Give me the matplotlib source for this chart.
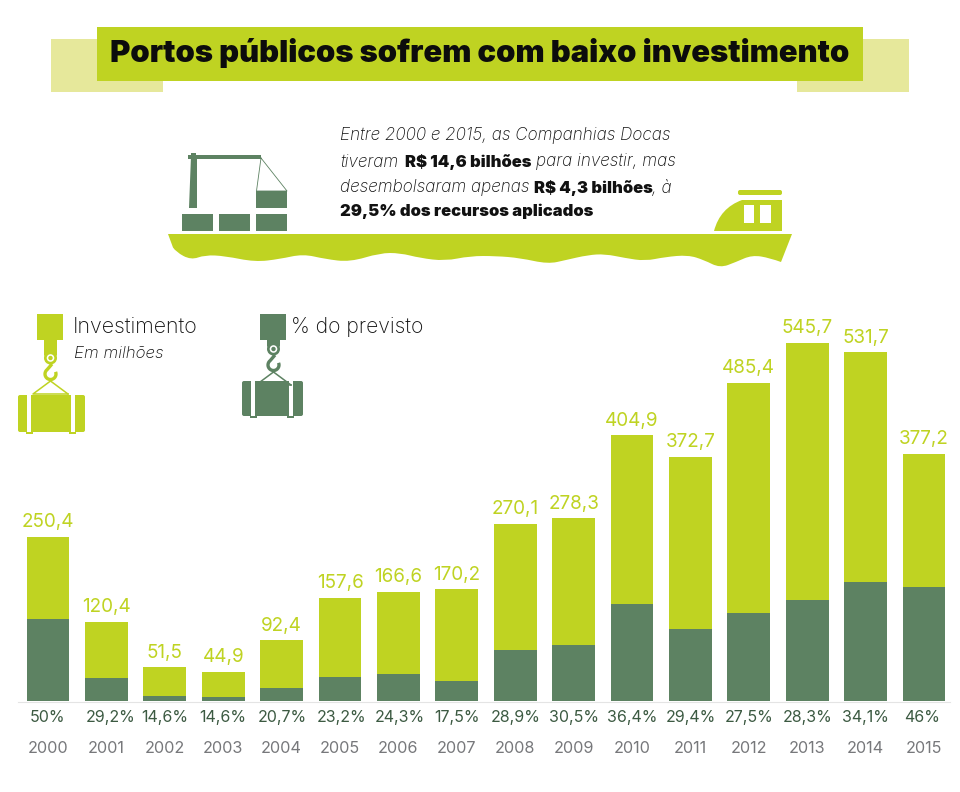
import numpy as np
import matplotlib
matplotlib.use("Agg")
import matplotlib.pyplot as plt
from matplotlib.patches import Rectangle, PathPatch, Circle, FancyBboxPatch
from matplotlib.path import Path

plt.rcParams['font.family'] = ['Inter', 'DejaVu Sans']

# Dados
anos = list(range(2000, 2016))
investimento = [250.4, 120.4, 51.5, 44.9, 92.4, 157.6, 166.6, 170.2,
                270.1, 278.3, 404.9, 372.7, 485.4, 545.7, 531.7, 377.2]
rotulos_inv = ['250,4', '120,4', '51,5', '44,9', '92,4', '157,6', '166,6', '170,2',
               '270,1', '278,3', '404,9', '372,7', '485,4', '545,7', '531,7', '377,2']
pct_previsto = [50, 29.2, 14.6, 14.6, 20.7, 23.2, 24.3, 17.5,
                28.9, 30.5, 36.4, 29.4, 27.5, 28.3, 34.1, 46]
rotulos_pct = ['50%', '29,2%', '14,6%', '14,6%', '20,7%', '23,2%', '24,3%', '17,5%',
               '28,9%', '30,5%', '36,4%', '29,4%', '27,5%', '28,3%', '34,1%', '46%']

LIMA = '#bfd322'
LIMA_CLARO = '#e6e89b'
VERDE = '#5d8262'
TEXTO_PCT = '#3c5a42'
CINZA = '#77787b'

fig = plt.figure(figsize=(9.6, 7.92), dpi=100)

# camada de desenho em pixels
bg = fig.add_axes([0, 0, 1, 1])
bg.set_xlim(0, 960)
bg.set_ylim(792, 0)
bg.axis('off')

# eixo das barras
ax = fig.add_axes([0, (792 - 701) / 792, 1, 401 / 792])
passo = 58.4
ax.set_xlim(2000 - 48 / passo, 2000 + (960 - 48) / passo)
ax.set_ylim(0, 401 / 0.656)
ax.patch.set_alpha(0)

inv = np.array(investimento)
parte = inv * np.array(pct_previsto) / 100
ax.bar(anos, inv, width=0.736, color=LIMA, linewidth=0)
ax.bar(anos, parte, width=0.736, color=VERDE, linewidth=0)

for s in ['top', 'left', 'right', 'bottom']:
    ax.spines[s].set_visible(False)
ax.set_yticks([])
ax.set_xticks(anos)
ax.set_xticklabels(anos, fontsize=11.7, color=CINZA)
ax.tick_params(axis='x', length=0, pad=29)

# pequenos desvios dos rotulos de % no original
desvio_pct = {2000: -1, 2001: 4, 2004: 1, 2005: 2, 2006: 1, 2015: -2}

for a, v, r, p in zip(anos, investimento, rotulos_inv, rotulos_pct):
    ax.annotate(r, (a, v), xytext=(0, 4), textcoords='offset points',
                ha='center', va='bottom', fontsize=13.6, color=LIMA)
    ax.annotate(p, (a, 0), xytext=(desvio_pct.get(a, 0) * 0.72, -12), textcoords='offset points',
                ha='center', va='center', fontsize=11.5, color=TEXTO_PCT)

bg.plot([18, 950], [701.5, 701.5], color='#e4e4e4', lw=0.8)

# titulo
bg.add_patch(Rectangle((51, 39), 112, 53, color=LIMA_CLARO, lw=0))
bg.add_patch(Rectangle((797, 39), 112, 53, color=LIMA_CLARO, lw=0))
bg.add_patch(Rectangle((97, 27), 766, 54, color=LIMA, lw=0))
bg.text(480, 53, 'Portos públicos sofrem com baixo investimento', ha='center', va='center',
        fontsize=22.3, fontweight='black', color='#0c0c0c')

# texto do navio
kw_it = dict(style='italic', fontsize=12.3, va='center', fontweight='light', color='#111111')
kw_bf = dict(fontsize=11.9, va='center', fontweight='black', color='#111111')
bg.text(340, 135, 'Entre 2000 e 2015, as Companhias Docas', **kw_it)
bg.text(340, 162, 'tiveram', **kw_it)
bg.text(405, 162, 'R$ 14,6 bilhões', **kw_bf)
bg.text(536, 162, 'para investir, mas', **kw_it)
bg.text(340, 188, 'desembolsaram apenas', **kw_it)
bg.text(534, 188, 'R$ 4,3 bilhões', **kw_bf)
bg.text(652, 188, ', à', **kw_it)
bg.text(340, 211, '29,5% dos recursos aplicados', **kw_bf)

# casco
fundo = np.array([(781, 262), (770, 258), (752, 255), (736, 262), (720, 268), (704, 260), (688, 255),
                  (665, 257), (645, 261), (625, 258), (605, 254), (588, 255), (566, 260), (548, 264),
                  (520, 258), (496, 256), (470, 256), (445, 261), (420, 258), (400, 253), (380, 253),
                  (350, 262), (325, 259), (303, 254), (280, 259), (255, 262), (225, 256), (205, 255),
                  (191, 260), (176, 252), (170, 243)], dtype=float)
vert = [(168, 234), (792, 234), tuple(fundo[0])]
cod = [Path.MOVETO, Path.LINETO, Path.LINETO]
for i in range(1, len(fundo) - 1):
    vert += [tuple(fundo[i]), tuple((fundo[i] + fundo[i + 1]) / 2)]
    cod += [Path.CURVE3, Path.CURVE3]
vert += [(168, 234), (168, 234)]
cod += [Path.LINETO, Path.CLOSEPOLY]
bg.add_patch(PathPatch(Path(vert, cod), color=LIMA, lw=0))

# cabine
M, L, C, Z = Path.MOVETO, Path.LINETO, Path.CURVE3, Path.CLOSEPOLY
cab = [((714, 231), M), ((720, 208), C), ((742, 200), C), ((782, 200), L), ((782, 231), L),
       ((714, 231), Z)]
bg.add_patch(PathPatch(Path([p for p, _ in cab], [c for _, c in cab]), color=LIMA, lw=0))
bg.add_patch(FancyBboxPatch((738, 190), 44, 5, boxstyle='round,pad=0,rounding_size=2', color=LIMA, lw=0))
bg.add_patch(Rectangle((744, 205), 10, 18, color='white', lw=0))
bg.add_patch(Rectangle((760, 205), 11, 18, color='white', lw=0))

# guindaste e conteineres
for x0 in [182, 219, 256]:
    bg.add_patch(Rectangle((x0, 214), 31, 17, color=VERDE, lw=0))
bg.add_patch(Rectangle((256, 191), 31, 17, color=VERDE, lw=0))
bg.add_patch(PathPatch(Path([(191, 156), (197, 156), (197, 208), (189, 208), (191, 156)],
                            [M, L, L, L, Z]), color=VERDE, lw=0))
bg.add_patch(Rectangle((188, 155), 73, 4, color=VERDE, lw=0))
bg.add_patch(Rectangle((191, 153), 5, 4, color=VERDE, lw=0))
bg.plot([261, 256.5, 287, 261], [158, 191, 191, 158], color=VERDE, lw=0.6)


def gancho(x, cy, cor):
    # x = esquerda do bloco, cy = centro do olhal
    bg.add_patch(Rectangle((x, 314), 26, 26, color=cor, lw=0))
    neck = [(x + 7, 338), (x + 20, 338), (x + 20, cy - 3), (x + 13, cy + 7), (x + 7, cy - 3), (x + 7, 338)]
    bg.add_patch(PathPatch(Path(neck, [M, L, L, L, L, Z]), color=cor, lw=0))
    bg.add_patch(Circle((x + 13.5, cy), 6.5, color=cor, lw=0))
    bg.add_patch(Circle((x + 13.5, cy), 3.8, color='white', lw=0))
    bg.add_patch(Circle((x + 13.5, cy), 2.2, color=cor, lw=0))
    t = np.linspace(-0.4, np.pi + 0.9, 30)
    hx = x + 13.5 + 5.5 * np.cos(t)
    hy = cy + 16 + 5.5 * np.sin(t)
    bg.plot(list(hx) + [x + 15], list(hy) + [cy + 6], color=cor, lw=2.4, solid_capstyle='butt')
    bg.plot([x + 13.5, x - 4, x + 31], [cy + 23, cy + 36, cy + 36], color=cor, lw=1.1)
    bg.plot([x + 13.5, x + 31], [cy + 23, cy + 36], color=cor, lw=1.1)


def carga(x, y, w, h, cor):
    bg.add_patch(FancyBboxPatch((x, y), w, h, boxstyle='round,pad=0,rounding_size=2', color=cor, lw=0))
    bg.add_patch(Rectangle((x + 9, y - 0.5), 4, h + 1, color='white', lw=0))
    bg.add_patch(Rectangle((x + w - 14, y - 0.5), 4, h + 1, color='white', lw=0))
    bg.add_patch(Rectangle((x + 8, y + h), 7, 1.5, color=cor, lw=0))
    bg.add_patch(Rectangle((x + w - 16, y + h), 7, 1.5, color=cor, lw=0))


gancho(37, 358, LIMA)
carga(18, 395, 67, 37, LIMA)
gancho(260, 349, VERDE)
carga(242, 381, 61, 35, VERDE)

bg.text(73, 327, 'Investimento', fontsize=15.4, va='center', fontweight='light', color='#111111')
bg.text(74, 353, 'Em milhões', fontsize=12.2, style='italic', fontweight='light', va='center', color='#111111')
bg.text(291, 327, '% do previsto', fontsize=15.2, va='center', fontweight='light', color='#111111')

fig.savefig('out.png', dpi=100)
